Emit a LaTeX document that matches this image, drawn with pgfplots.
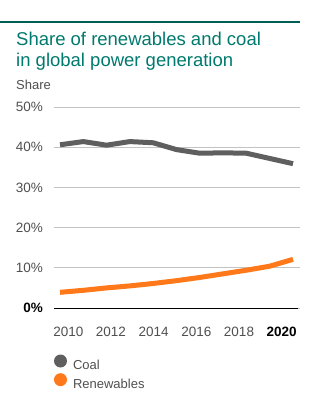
\documentclass[border=0pt]{standalone}
\usepackage{pgfplots}
\pgfplotsset{compat=1.18}
\usepackage{fontspec}
\setmainfont{Liberation Sans}
\definecolor{teal1}{RGB}{0,122,110}
\definecolor{tealrule}{RGB}{0,95,85}
\definecolor{coal}{RGB}{95,95,95}
\definecolor{renew}{RGB}{255,121,26}
\definecolor{txt}{RGB}{80,80,80}
\definecolor{gridc}{RGB}{195,195,195}

\pgfplotstableread{
year coal renew
2010 40.6 3.9
2011 41.4 4.4
2012 40.5 5.0
2013 41.4 5.5
2014 41.1 6.1
2015 39.4 6.8
2016 38.5 7.6
2017 38.6 8.5
2018 38.5 9.4
2019 37.2 10.4
2020 35.9 12.1
}\data

\begin{document}
\begin{tikzpicture}[x=1bp,y=1bp]
\useasboundingbox (0,0) rectangle (324,408);
\fill[white] (0,0) rectangle (324,408);
\draw[tealrule, line width=1.5bp] (0,386) -- (300,386);
\node[anchor=base west, inner sep=0pt, text=teal1, font=\fontsize{18.5bp}{21.7bp}\selectfont] at (16,363) {Share of renewables and coal};
\node[anchor=base west, inner sep=0pt, text=teal1, font=\fontsize{18.5bp}{21.7bp}\selectfont] at (16,341.3) {in global power generation};
\node[anchor=base west, inner sep=0pt, text=txt, font=\fontsize{13bp}{15bp}\selectfont] at (16,319) {Share};
\begin{axis}[
  at={(54bp,100bp)}, anchor=south west,
  scale only axis, width=246bp, height=201bp,
  xmin=2009.742, xmax=2020.30, ymin=0, ymax=50,
  clip=false,
  axis line style={draw=none},
  major tick length=0pt,
  ytick={0,10,20,30,40,50},
  yticklabels={{\color{black}\bfseries 0\%},10\%,20\%,30\%,40\%,50\%},
  xtick={2010.356,2012.187,2014.019,2015.851,2017.682,2019.514},
  xticklabels={2010,2012,2014,2016,2018,{\color{black}\bfseries 2020}},
  yticklabel style={anchor=base east, inner sep=0pt, xshift=-11bp, yshift=-4.7bp, text=txt, font=\fontsize{13.5bp}{16bp}\selectfont},
  xticklabel style={anchor=base, inner sep=0pt, yshift=-28bp, text=txt, font=\fontsize{13.5bp}{16bp}\selectfont},
  ymajorgrids, grid style={gridc, line width=0.7bp},
  legend style={at={(rel axis cs:0,0)}, anchor=north west, yshift=-46.5bp,
    draw=none, fill=none, inner sep=0pt, outer sep=0pt,
    nodes={inner sep=0pt, text=txt, font=\fontsize{13bp}{15bp}\selectfont},
    column sep=6bp, row sep=2bp},
  legend cell align=left,
  legend image code/.code={\fill[draw=none] (6.5bp,4.7bp) circle (6.5bp);},
]
\draw[black, line width=0.9bp] (rel axis cs:0,0) -- (rel axis cs:0.99,0);
\addplot[coal, line width=5bp, line join=round] table[x=year, y=coal] {\data};
\addlegendentry{Coal}
\addplot[renew, line width=5bp, line join=round] table[x=year, y=renew] {\data};
\addlegendentry{Renewables}
\end{axis}
\end{tikzpicture}
\end{document}
